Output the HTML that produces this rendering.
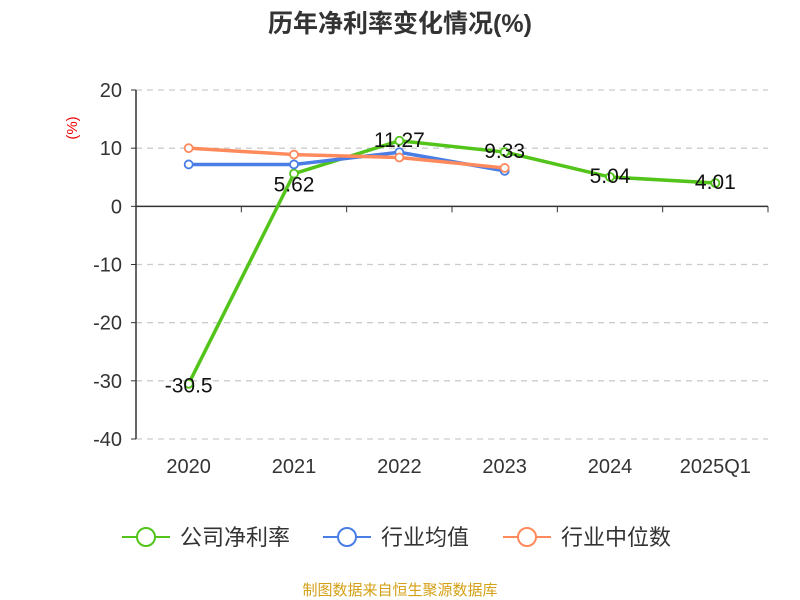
<!DOCTYPE html>
<html><head><meta charset="utf-8"><style>
body{margin:0;background:#fff;}
svg{display:block;font-family:"Liberation Sans","Noto Sans CJK SC",sans-serif;}
</style></head><body>
<svg id="chart" width="800" height="600">
<text x="400" y="32" text-anchor="middle" font-size="25" font-weight="bold" fill="#333">历年净利率变化情况(%)</text>
<text transform="translate(77,128) rotate(-90)" text-anchor="middle" font-size="15" fill="#e00">(%)</text>
<g id="grid"></g><g id="axes"></g><g id="series"></g><g id="labels"></g>
<g>
 <g><line x1="122" y1="537" x2="170" y2="537" stroke="#52c41a" stroke-width="2"/><circle cx="146" cy="537" r="9" fill="#fff" stroke="#52c41a" stroke-width="2"/><text x="180" y="545" font-size="22" fill="#333">公司净利率</text></g>
 <g><line x1="323" y1="537" x2="371" y2="537" stroke="#4a7ee6" stroke-width="2"/><circle cx="347" cy="537" r="9" fill="#fff" stroke="#4a7ee6" stroke-width="2"/><text x="381" y="545" font-size="22" fill="#333">行业均值</text></g>
 <g><line x1="503" y1="537" x2="551" y2="537" stroke="#ff8a5c" stroke-width="2"/><circle cx="527" cy="537" r="9" fill="#fff" stroke="#ff8a5c" stroke-width="2"/><text x="561" y="545" font-size="22" fill="#333">行业中位数</text></g>
</g>
<text x="400" y="595" text-anchor="middle" font-size="15" fill="#d4a017">制图数据来自恒生聚源数据库</text>
</svg>
<script>
const categories=["2020","2021","2022","2023","2024","2025Q1"];
const netMargin=[-30.5,5.62,11.27,9.33,5.04,4.01];
const industryAvg=[7.2,7.2,9.3,6.1];
const industryMedian=[10.0,8.9,8.4,6.6];
const yTicks=[20,10,0,-10,-20,-30,-40];
const NS="http://www.w3.org/2000/svg";
const x0=136,x1=768,yTop=90,yBot=439,vMax=20,vMin=-40;
const bw=(x1-x0)/categories.length;
const xs=i=>x0+bw*(i+0.5);
const ys=v=>yTop+(vMax-v)/(vMax-vMin)*(yBot-yTop);
function mk(tag,attrs,parent){const e=document.createElementNS(NS,tag);for(const k in attrs)e.setAttribute(k,attrs[k]);document.getElementById(parent).appendChild(e);return e;}
yTicks.forEach(t=>{
 if(t!==0){const g=mk('line',{x1:x0,x2:x1,y1:ys(t),y2:ys(t),stroke:'#ccc','stroke-dasharray':'6,5','stroke-width':1.3},'grid');
 
 }
 const tk=mk('line',{x1:x0-5,x2:x0,y1:ys(t),y2:ys(t),stroke:'#333'},'axes');
 
 
 const l=mk('text',{x:x0-14,y:ys(t)+7,'text-anchor':'end','font-size':20,fill:'#333'},'axes');l.textContent=t;
 
 
});
const ya=mk('line',{x1:x0,x2:x0,y1:yTop,y2:yBot,stroke:'#333','stroke-width':1.5},'axes');


const xa=mk('line',{x1:x0,x2:x1,y1:ys(0),y2:ys(0),stroke:'#333','stroke-width':1.5},'axes');


for(let i=0;i<=categories.length;i++){const t=mk('line',{x1:x0+bw*i,x2:x0+bw*i,y1:ys(0),y2:ys(0)+6,stroke:'#333'},'axes');
 
 }
categories.forEach((c,i)=>{const l=mk('text',{x:xs(i),y:473,'text-anchor':'middle','font-size':20,fill:'#333'},'axes');l.textContent=c;
 
 });
function series(vals,color,name){
 const p=mk('polyline',{points:vals.map((v,i)=>xs(i)+','+ys(v)).join(' '),fill:'none',stroke:color,'stroke-width':3.5,'stroke-linejoin':'round'},'series');
 
 
 vals.forEach((v,i)=>{const c=mk('circle',{cx:xs(i),cy:ys(v),r:4,fill:'#fff',stroke:color,'stroke-width':1.8},'series');
  
  });
}
series(netMargin,'#52c41a','net-margin');
series(industryAvg,'#4a7ee6','industry-average');
series(industryMedian,'#ff8a5c','industry-median');
netMargin.forEach((v,i)=>{
 const l=mk('text',{x:xs(i),y:i===0?ys(v)+9:(i===1?ys(v)+18:ys(v)+6),'text-anchor':'middle','font-size':21,fill:'#111'},'labels');
 l.textContent=v;
 
 
});
</script>
</body></html>
